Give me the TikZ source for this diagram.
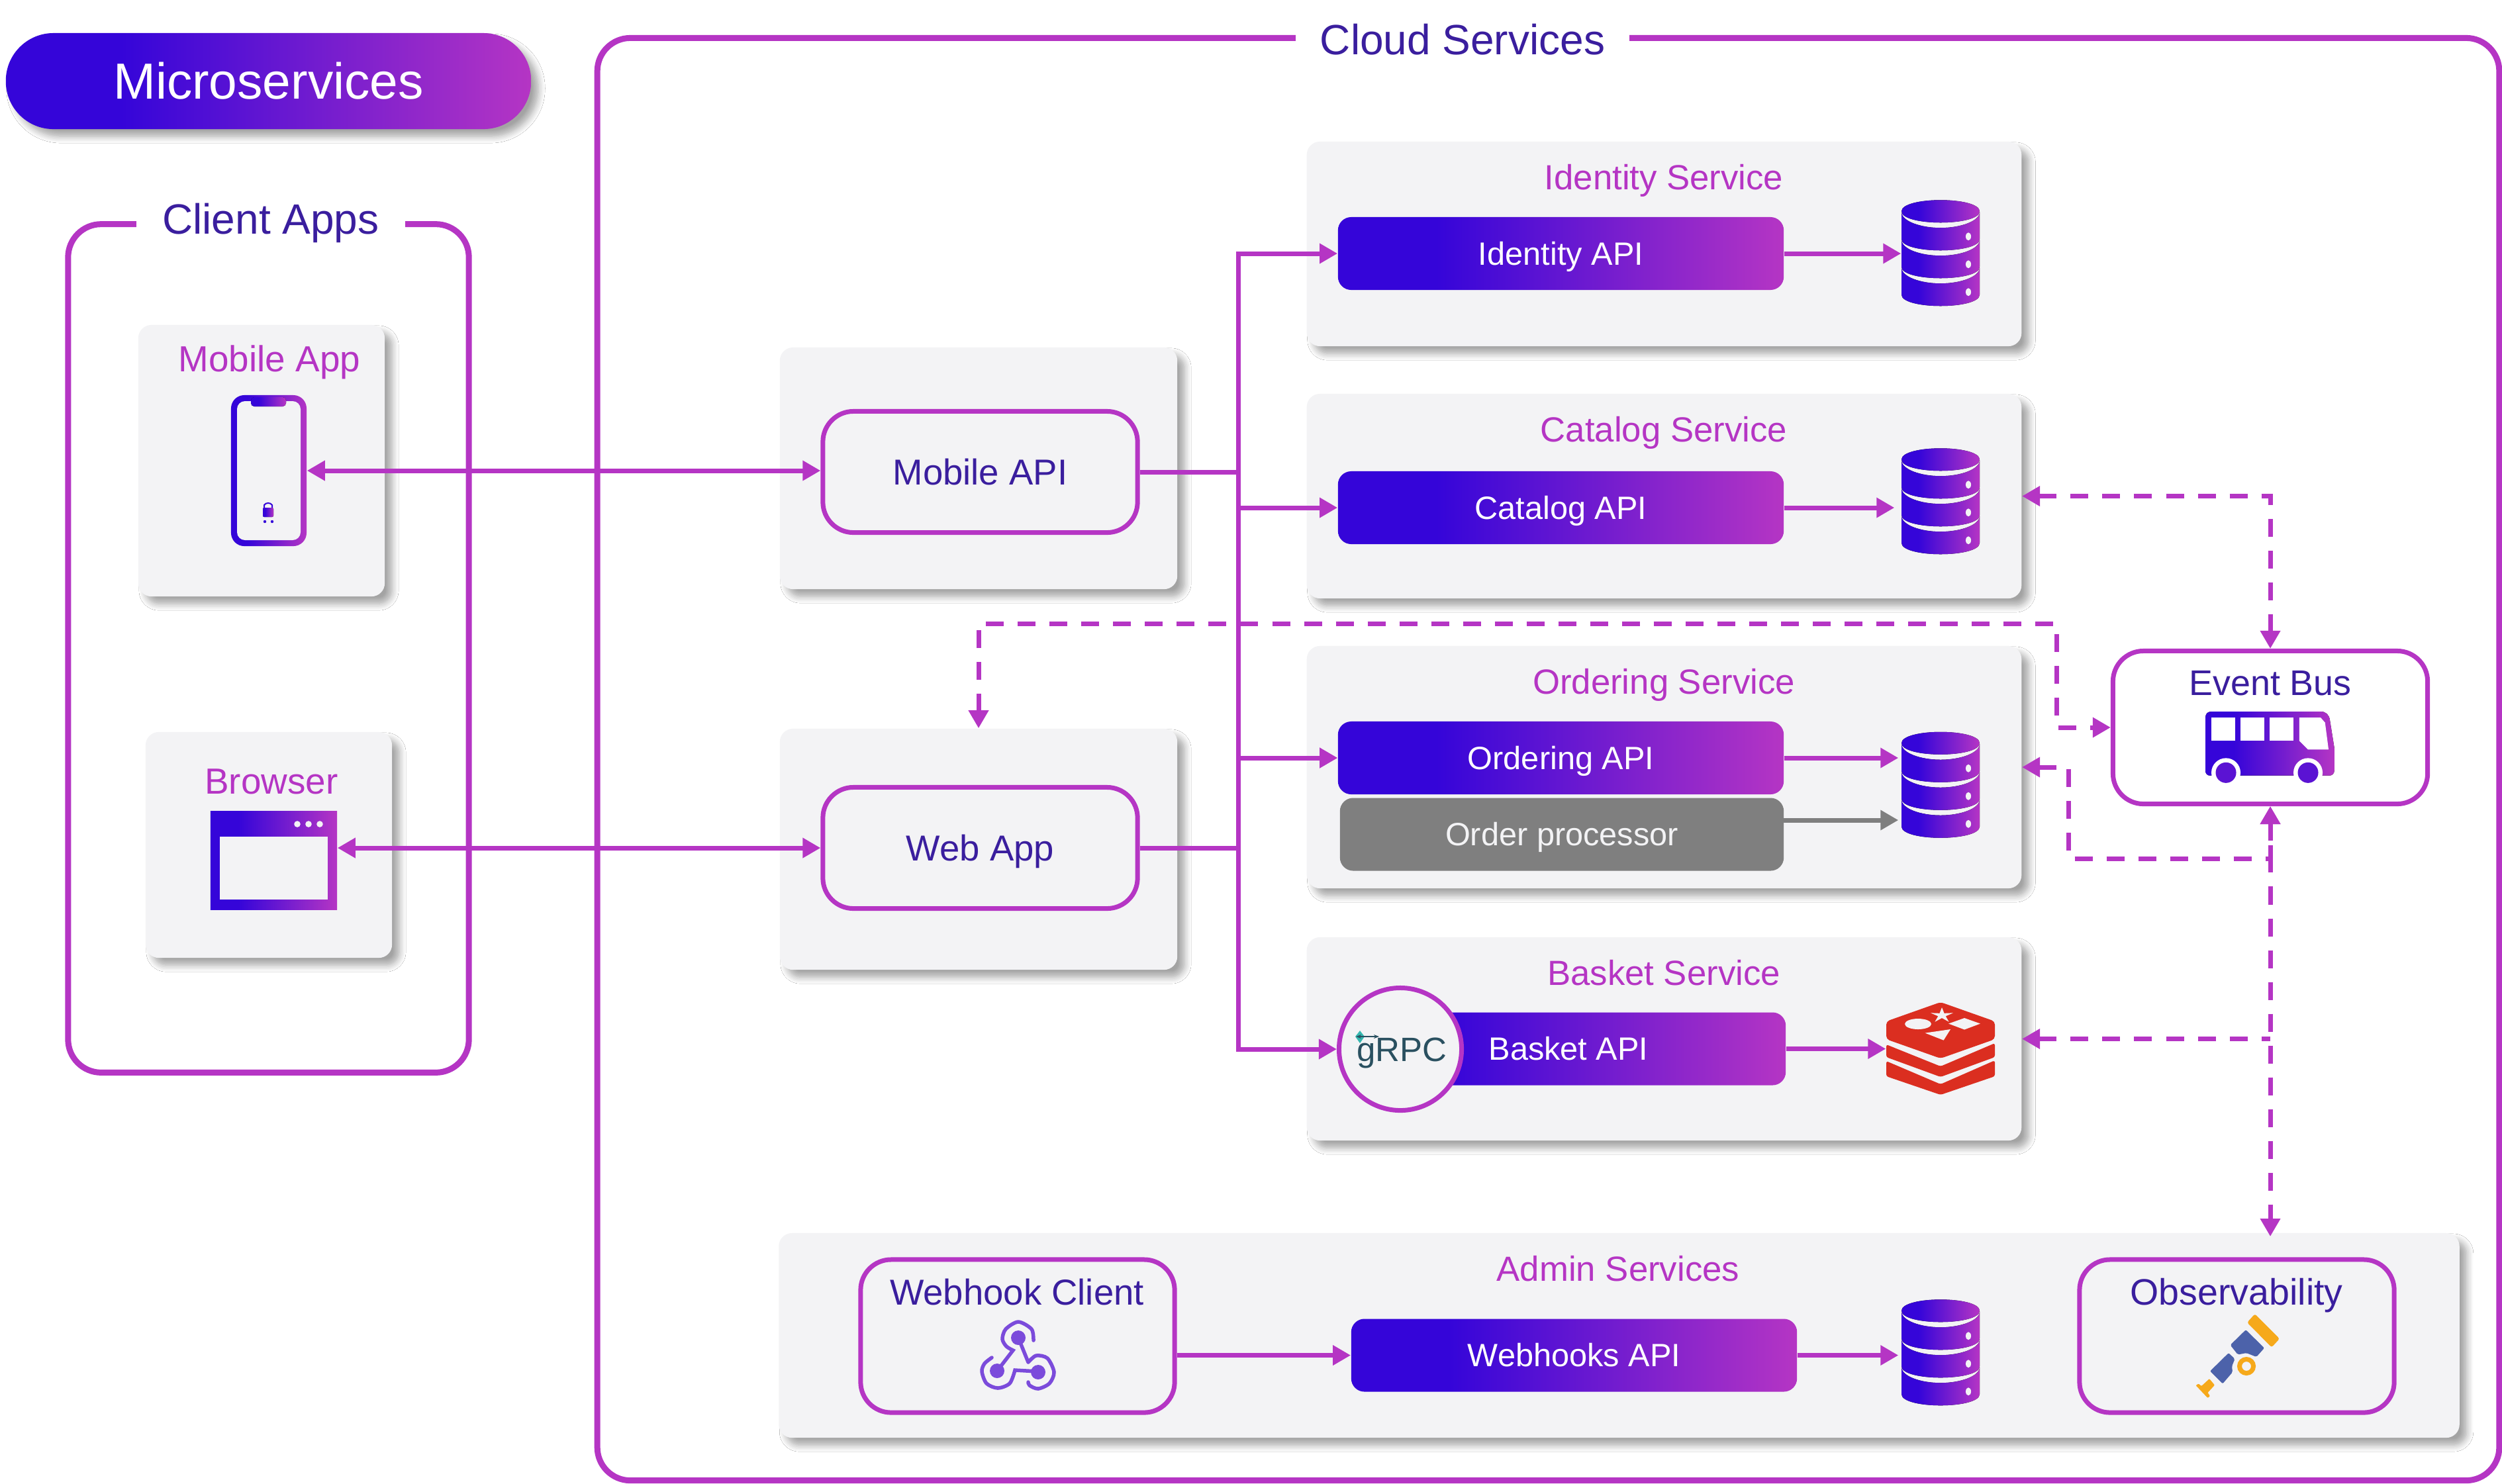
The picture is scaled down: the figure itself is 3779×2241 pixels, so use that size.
\documentclass[tikz,border=0pt]{standalone}
\usepackage{fontspec}
\setmainfont{Liberation Sans}
\usepackage{tikz}
\usetikzlibrary{arrows.meta,shadows.blur}

\definecolor{brandleft}{HTML}{3505D9}
\definecolor{brandright}{HTML}{B535C4}
\definecolor{linec}{HTML}{B535C4}
\definecolor{inkc}{HTML}{3A1E9E}
\definecolor{cardgray}{HTML}{F3F3F5}
\definecolor{procgray}{HTML}{7F7F7F}
\definecolor{redisred}{HTML}{DB2E20}
\definecolor{hookc}{HTML}{7B4BDB}
\definecolor{scopeyellow}{HTML}{F6A91B}
\definecolor{scopeblue}{HTML}{4C62AA}
\definecolor{grpcink}{HTML}{2A5060}
\definecolor{grpcteal}{HTML}{35B8B0}

\pgfdeclarehorizontalshading{brandgrad}{100bp}{color(0bp)=(brandleft); color(36bp)=(brandleft); color(75bp)=(brandright); color(100bp)=(brandright)}

\tikzset{
    softshadow/.style={blur shadow={shadow xshift=.11cm,shadow yshift=-.11cm,shadow blur radius=.1cm,shadow opacity=36,shadow blur steps=8}},
    cardbox/.style={fill=cardgray,rounded corners=.2cm,inner sep=0,softshadow},
    framebox/.style={draw=linec,line width=.09cm,rounded corners=.5cm,inner sep=0},
    framelabel/.style={fill=white,text=inkc,inner sep=0,minimum height=1cm,text height=13pt,text depth=0pt,font=\fontsize{18.2}{22}\selectfont},
    cardtitle/.style={text=linec,inner sep=0,text height=10.8pt,text depth=0pt,font=\fontsize{15}{18}\selectfont},
    clienttitle/.style={cardtitle,text height=11.2pt,font=\fontsize{15.6}{18}\selectfont},
    linebox/.style={draw=linec,line width=.07cm,fill=cardgray,rounded corners=.46cm,inner sep=0,text=inkc,text height=11.1pt,text depth=0pt,font=\fontsize{15.5}{18}\selectfont},
    boxtitle/.style={text=inkc,inner sep=0,text height=11.1pt,text depth=0pt,font=\fontsize{15.5}{18}\selectfont},
    barbox/.style={rounded corners=.2cm,inner sep=0,text=white,minimum height=1.1cm,text height=9.9pt,text depth=0pt,font=\fontsize{13.85}{17}\selectfont},
    apibar/.style={barbox,shading=brandgrad},
    flowarrow/.style={draw=linec,line width=.07cm,-{Triangle[length=.27cm,width=.29cm]}},
    bothflow/.style={flowarrow,{Triangle[length=.27cm,width=.29cm]}-{Triangle[length=.27cm,width=.29cm]}},
    busdash/.style={draw=linec,line width=.07cm,dash pattern=on .27cm off .21cm,{Triangle[length=.27cm,width=.29cm]}-{Triangle[length=.27cm,width=.29cm]}}
}

\begin{document}
\begin{tikzpicture}[x=.01cm,y=-.01cm]
    \path[use as bounding box,fill=white] (0,0) rectangle (3779,2241);

    % frames
    \node[framebox,minimum width=6.05cm,minimum height=12.81cm] (clientframe) at (405.5,979.5) {};
    \node[framebox,minimum width=28.71cm,minimum height=21.78cm] (cloudframe) at (2338.5,1147) {};
    \node[framelabel,minimum width=4.06cm] (clientlabel) at (409,331) {Client Apps};
    \node[framelabel,minimum width=5.04cm] (cloudlabel) at (2209,60) {Cloud Services};

    % pill
    \node[shading=brandgrad,rounded corners=.72cm,inner sep=0,minimum width=7.93cm,minimum height=1.45cm,softshadow,text=white,text height=15.6pt,text depth=0pt,font=\fontsize{21.8}{25}\selectfont] (pilltitle) at (405.5,122.5) {Microservices};

    % cards
    \foreach \cardname/\cardx/\cardy/\cardw/\cardh in {mobilecard/395/696/3.72/4.10, browsercard/406/1276.5/3.72/3.41,
        mobileapicard/1478/707.5/6.00/3.65, webcard/1478/1283/6.00/3.64,
        identitycard/2513.5/368.5/10.79/3.09, catalogcard/2513.5/749.5/10.79/3.09,
        orderingcard/2513.5/1159/10.79/3.66, basketcard/2513.5/1569.5/10.79/3.07,
        admincard/2445.5/2017.5/25.37/3.09}{
        \node[cardbox,minimum width=\cardw cm,minimum height=\cardh cm] (\cardname) at (\cardx,\cardy) {};
    }

    \node[clienttitle] (mobiletitle) at (407,542) {Mobile App};
    \node[clienttitle] (browsertitle) at (410,1180) {Browser};
    \node[cardtitle] (identitytitle) at (2513,267) {Identity Service};
    \node[cardtitle] (catalogtitle) at (2513,648) {Catalog Service};
    \node[cardtitle] (orderingtitle) at (2513,1029) {Ordering Service};
    \node[cardtitle] (baskettitle) at (2513,1469) {Basket Service};
    \node[cardtitle] (admintitle) at (2444,1916) {Admin Services};

    % phone
    \node[shading=brandgrad,rounded corners=.2cm,inner sep=0,minimum width=1.14cm,minimum height=2.28cm] (phoneicon) at (406,711) {};
    \fill[cardgray,rounded corners=.12cm] (358,606) rectangle (454,816);
    \fill[shading=brandgrad,rounded corners=.05cm] (379,600) rectangle (432,614);
    \fill[shading=brandgrad,rounded corners=.02cm] (397,767) rectangle (413,781);
    \draw[brandleft,line width=.02cm] (399,767) -- (399,763) to[bend left=60] (411,763) -- (411,767);
    \foreach \wheelx in {400,411}{
        \fill[brandleft] (\wheelx,788) circle [radius=2.2];
    }

    % browser window
    \node[shading=brandgrad,inner sep=0,minimum width=1.91cm,minimum height=1.48cm] (browsericon) at (413.5,1300) {};
    \fill[cardgray] (332,1264) rectangle (494.6,1359);
    \foreach \dotx in {449,466,483}{
        \fill[cardgray] (\dotx,1245) circle [radius=4.8];
    }

    % connectors
    \coordinate (trunkline) at (1870,0);
    \coordinate (dashrail) at (3106,942);
    \coordinate (orderrail) at (3124,1297);
    \coordinate (admintop) at (3429,1868);
    \coordinate (procout) at (2694,1239);

    \node[linebox,minimum width=4.75cm,minimum height=1.83cm] (mobileapi) at (1480.5,713) {Mobile API};
    \node[linebox,minimum width=4.75cm,minimum height=1.83cm] (webapp) at (1480.5,1281) {Web App};
    \node[apibar,minimum width=6.73cm] (identityapi) at (2357.5,383) {Identity API};
    \node[apibar,minimum width=6.73cm] (catalogapi) at (2357.5,767) {Catalog API};
    \node[apibar,minimum width=6.73cm] (orderingapi) at (2357.5,1145) {Ordering API};
    \node[barbox,minimum width=6.70cm,fill=procgray,text=cardgray] (orderproc) at (2359,1260.5) {Order processor};
    \node[apibar,minimum width=6.56cm] (basketapi) at (2369,1584.5) {Basket API};
    \node[apibar,minimum width=6.73cm] (webhooksapi) at (2377.5,2047.5) {Webhooks API};
    \node[draw=linec,line width=.07cm,fill=cardgray,circle,inner sep=0,minimum size=1.85cm,text=grpcink,text height=10.3pt,text depth=0pt,font=\fontsize{14.5}{17}\selectfont] (basketrpc) at (2115,1585) {\hspace{.04cm}gRPC};
    \node[linebox,minimum width=4.74cm,minimum height=2.31cm] (webhookclient) at (1537,2018.5) {};
    \node[linebox,minimum width=4.75cm,minimum height=2.31cm] (observability) at (3378.5,2018.5) {};
    \node[linebox,fill=white,minimum width=4.75cm,minimum height=2.31cm] (eventbus) at (3429,1099) {};
    \node[boxtitle] (webhooktitle) at (1536,1952) {Webhook Client};
    \node[boxtitle,font=\fontsize{15.8}{18}\selectfont] (observetitle) at (3378,1952) {Observability};
    \node[boxtitle,font=\fontsize{15.3}{18}\selectfont] (eventtitle) at (3429,1031) {Event Bus};

    % databases
    \foreach \dbname/\dbx/\dby in {identitydb/2931/383, catalogdb/2931/758, orderingdb/2931/1186.5, webhookdb/2931/2044}{
        \node[inner sep=0,minimum width=1.18cm,minimum height=1.6cm] (\dbname) at (\dbx,\dby) {};
        \begin{scope}[shift={(\dbname.north)}]
            \fill[shading=brandgrad] (-59,17) .. controls (-59,6) and (-30,0) .. (0,0) .. controls (30,0) and (59,6) .. (59,17) .. controls (59,28) and (30,34) .. (0,34) .. controls (-30,34) and (-59,28) .. (-59,17) -- cycle;
            \foreach \bandy in {0,42,84}{
                \fill[shading=brandgrad,yshift=-\bandy*.01cm] (-59,18) .. controls (-59,32) and (-30,42) .. (0,42) .. controls (30,42) and (59,32) .. (59,18) -- (59,59) .. controls (59,70) and (30,76) .. (0,76) .. controls (-30,76) and (-59,70) .. (-59,59) -- cycle;
                \fill[cardgray,yshift=-\bandy*.01cm] (42,55) ellipse [x radius=4,y radius=6];
            }
        \end{scope}
    }

    % redis
    \node[inner sep=0,minimum width=1.64cm,minimum height=1.4cm] (basketcache) at (2931,1584) {};
    \fill[redisred,rounded corners=.05cm] (2931,1514) -- (3013,1543) -- (3013,1570) -- (2931,1599) -- (2849,1570) -- (2849,1543) -- cycle;
    \fill[redisred,rounded corners=.03cm] (2849,1578) -- (2931,1611) -- (3013,1576) -- (3013,1597) -- (2931,1627) -- (2849,1597) -- cycle;
    \fill[redisred,rounded corners=.03cm] (2849,1603) -- (2931,1638) -- (3013,1602) -- (3013,1626) -- (2931,1654) -- (2849,1626) -- cycle;
    \fill[cardgray] (2933,1522) -- (2936.5,1530.8) -- (2950,1530.3) -- (2938.7,1535.2) -- (2943.6,1543.7) -- (2933,1538) -- (2922.4,1543.7) -- (2927.3,1535.2) -- (2916,1530.3) -- (2929.5,1530.8) -- cycle;
    \fill[cardgray] (2897,1547) ellipse [x radius=20,y radius=8];
    \fill[cardgray] (2967,1538) -- (2991,1546.5) -- (2967,1555.5) -- (2943,1546.5) -- cycle;
    \fill[cardgray] (2907.6,1560.6) -- (2946,1555) -- (2935.6,1571.6) -- cycle;

    % grpc logo
    \fill[grpcteal] (2054,1557) -- (2061,1566) -- (2054,1576) -- (2047,1566) -- cycle;
    \draw[grpcink,line width=.02cm,{Stealth[length=.08cm]}-{Stealth[length=.08cm]}] (2048,1566) -- (2083,1566);

    % webhook icon
    \begin{scope}[hookc,line width=.055cm,line cap=round]
        \foreach \dotx/\doty in {1538/2021,1506/2071,1568/2073}{
            \fill (\dotx,\doty) circle [radius=11];
        }
        \draw plot[smooth] coordinates {(1561,2025) (1558,2008) (1538,1997) (1519,2008) (1514,2023) (1520,2034) (1530,2040)} -- (1510,2066);
        \draw plot[smooth] coordinates {(1498,2051) (1487,2060) (1483,2072) (1490,2090) (1507,2097) (1525,2090) (1533,2070)} -- (1568,2072);
        \draw (1538,2021) -- (1553,2058) plot[smooth] coordinates {(1553,2058) (1565,2048) (1582,2052) (1592,2073) (1585,2090) (1568,2098) (1555,2093) (1553,2088)};
    \end{scope}

    % telescope icon
    \fill[scopeyellow,rounded corners=.03cm] (3405.7,1985) -- (3443,2022.5) -- (3431,2035.5) -- (3394,1998) -- cycle;
    \fill[scopeblue,rounded corners=.02cm] (3392,2009) -- (3420,2036.5) -- (3408,2050) -- (3393,2044) -- (3380,2046.5) -- (3368.5,2032) -- cycle;
    \fill[scopeblue,rounded corners=.02cm] (3366,2044) -- (3375.5,2053) -- (3371,2064) -- (3372,2073) -- (3357,2090.5) -- (3338,2071.5) -- cycle;
    \draw[scopeyellow,line width=.07cm] (3393,2064) circle [radius=10.5];
    \fill[scopeyellow,rounded corners=.01cm] (3337,2083) -- (3345,2092.5) -- (3334.5,2104) -- (3338,2109) -- (3334.5,2112) -- (3316.5,2093) -- (3320.6,2090.5) -- (3325,2094) -- cycle;

    % bus icon
    \fill[shading=brandgrad] (3331,1085) .. controls (3331,1078) and (3334,1075) .. (3341,1075) -- (3505,1075) .. controls (3513,1075) and (3518,1080) .. (3519,1088) -- (3525.7,1130) -- (3525.7,1164) .. controls (3525.7,1169) and (3522,1171.7) .. (3518,1171.7) -- (3338,1171.7) .. controls (3334,1171.7) and (3331,1169) .. (3331,1164) -- cycle;
    \foreach \winx in {3340,3384,3428}{
        \fill[white] (\winx,1084) rectangle (\winx+35.5,1119);
    }
    \fill[white] (3472.7,1084) -- (3505,1084) -- (3511.7,1091.7) -- (3517,1132.3) -- (3486,1132.3) -- (3472.7,1119) -- cycle;
    \foreach \wheelx in {3362,3486}{
        \fill[white] (\wheelx,1167.3) circle [radius=22];
        \fill[brandleft!70!brandright] (\wheelx,1167.3) circle [radius=15.5];
    }

    \draw[bothflow] (phoneicon.east) -- (phoneicon.east -| mobileapi.west);
    \draw[bothflow] (browsericon.east |- webapp.west) -- (webapp.west);

    \foreach \srcname/\dstname in {mobileapi/identityapi, mobileapi/catalogapi, mobileapi/orderingapi, webapp/orderingapi, webapp/basketrpc}{
        \draw[flowarrow] (\srcname.east) -- (\srcname.east -| trunkline) |- (\dstname.west);
    }

    \draw[flowarrow] (identityapi.east) -- (identityapi.east -| identitydb.west);
    \draw[flowarrow,shorten >=.1cm] (catalogapi.east) -- (catalogapi.east -| catalogdb.west);
    \draw[flowarrow,shorten >=.04cm] (orderingapi.east) -- (orderingapi.east -| orderingdb.west);
    \draw[flowarrow,draw=procgray,fill=procgray,shorten >=.04cm] (procout) -- (procout -| orderingdb.west);
    \draw[flowarrow] (basketapi.east) -- (basketapi.east -| basketcache.west);
    \draw[flowarrow] (webhookclient.east |- webhooksapi.west) -- (webhooksapi.west);
    \draw[flowarrow,shorten >=.04cm] (webhooksapi.east) -- (webhooksapi.east -| webhookdb.west);

    \draw[busdash] (catalogcard.east) -| (eventbus.north);
    \draw[busdash] (webcard.north) |- (dashrail) |- (eventbus.west);
    \draw[busdash] (orderingcard.east) -| (orderrail) -| (eventbus.south);
    \draw[busdash] (eventbus.south) -- (admintop);
    \draw[busdash,{Triangle[length=.27cm,width=.29cm]}-] (basketcard.east) -- (basketcard.east -| eventbus.south);
\end{tikzpicture}
\end{document}
